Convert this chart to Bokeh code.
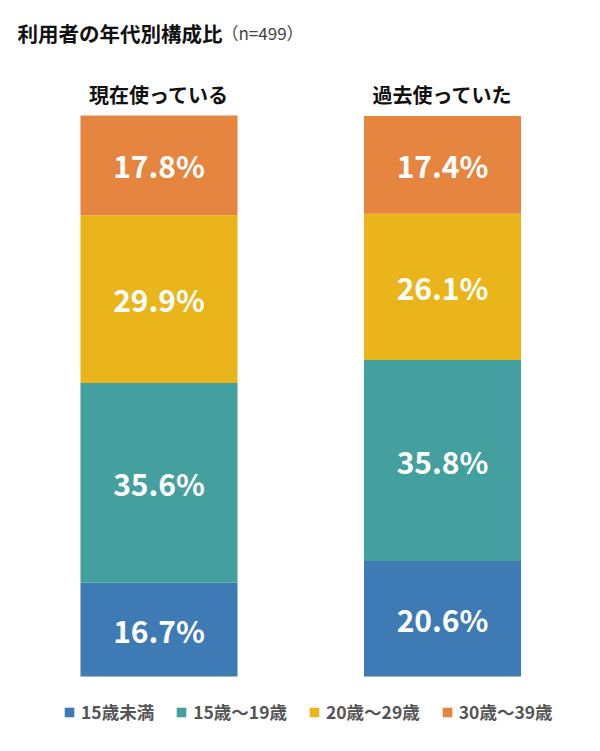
import numpy as np
from bokeh.plotting import figure
from bokeh.models import ColumnDataSource, Range1d, Label, Legend, LegendItem
from bokeh.core.properties import value
from bokeh.embed import file_html
from bokeh.resources import INLINE

groups = ["現在使っている", "過去使っていた"]
age_labels = ["15歳未満", "15歳～19歳", "20歳～29歳", "30歳～39歳"]
under15 = [16.7, 20.6]
age15_19 = [35.6, 35.8]
age20_29 = [29.9, 26.1]
age30_39 = [17.8, 17.4]
colors = ["#3E7AB3", "#43A09F", "#E9B51A", "#E5853F"]
title_text = "利用者の年代別構成比"
n_text = "（n=499）"

FONT = "Noto Sans CJK JP"
W, H = 584, 735

xpos = [0, 1]
keys = ["a", "b", "c", "d"]
src = ColumnDataSource(dict(x=xpos, a=under15, b=age15_19, c=age20_29, d=age30_39))

p = figure(width=W, height=H, output_backend="svg", toolbar_location=None,
           x_range=Range1d(-0.5591, 1.5009), y_range=Range1d(-10.517, 120.499),
           min_border=0, outline_line_color=None)
p.axis.visible = False
p.grid.visible = False
p.background_fill_color = "white"

rs = p.vbar_stack(keys, x="x", width=0.554, color=colors, source=src, line_width=0)

# percent labels
vals = np.array([under15, age15_19, age20_29, age30_39])
cum = np.cumsum(vals, axis=0)
mids = cum - vals / 2
lx, ly, lt = [], [], []
for i in range(vals.shape[0]):
    for j in range(vals.shape[1]):
        lx.append(xpos[j]); ly.append(mids[i, j]); lt.append(f"{vals[i, j]:.1f}%")
p.text(x=lx, y=ly, text=lt, text_color="white", text_font=value(FONT),
       text_font_size="30px", text_font_style="bold", text_align="center",
       text_baseline="middle")

# bar titles
p.text(x=xpos, y=[103.74, 103.74], text=groups, text_color="#111111",
       text_font=value(FONT), text_font_size="20px", text_font_style="bold",
       text_align="center", text_baseline="middle")

p.add_layout(Label(x=17, y=703, x_units="screen", y_units="screen", text=title_text,
                   text_font=FONT, text_font_size="20.5px", text_font_style="bold",
                   text_color="#111111", text_baseline="middle"))
p.add_layout(Label(x=221, y=703, x_units="screen", y_units="screen", text=n_text,
                   text_font=FONT, text_font_size="17px",
                   text_color="#444444", text_baseline="middle"))

legend = Legend(items=[LegendItem(label=age_labels[i], renderers=[rs[i]]) for i in range(4)],
                orientation="horizontal", location=(63, 11),
                glyph_width=12, glyph_height=12, label_standoff=6, spacing=21,
                label_text_font=FONT, label_text_font_size="17.5px",
                label_text_font_style="bold", label_text_color="#555555",
                label_height=20, padding=0, margin=0,
                border_line_alpha=0, background_fill_alpha=0)
p.add_layout(legend)

open("out.html", "w").write(file_html(p, INLINE))
